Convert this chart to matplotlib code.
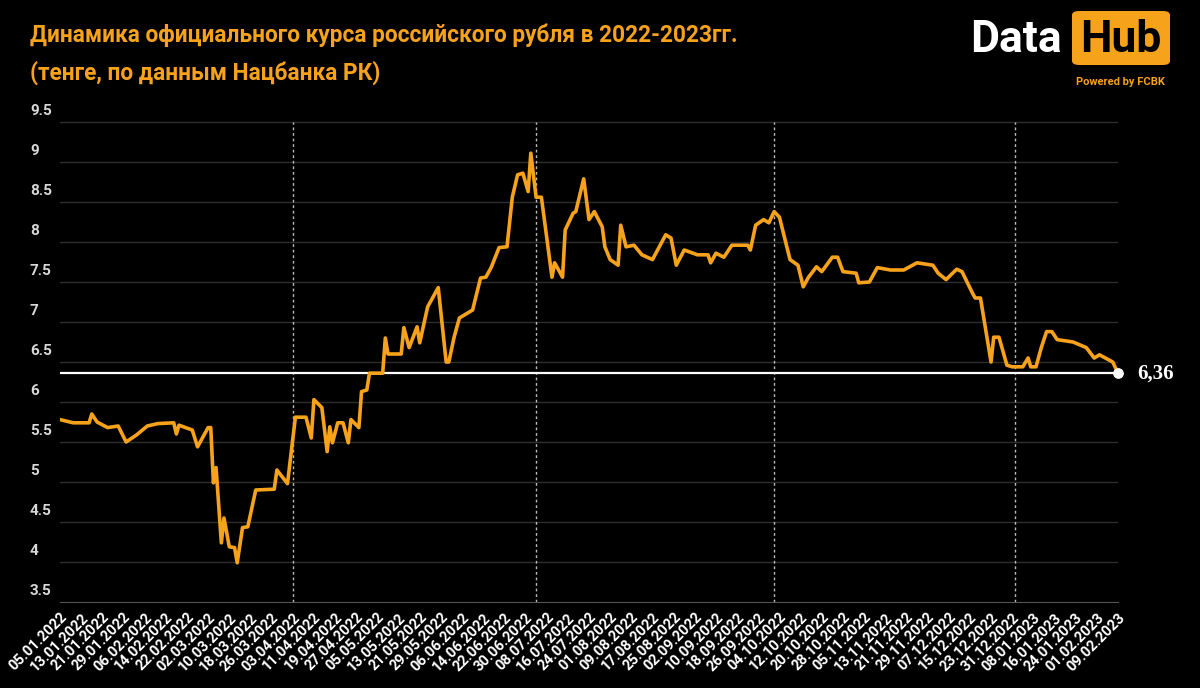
import datetime as dt

import matplotlib
matplotlib.use("Agg")
import matplotlib.pyplot as plt
from matplotlib.patches import FancyBboxPatch
from matplotlib.transforms import blended_transform_factory

START = dt.date(2022, 1, 5)

# days since 05.01.2022 and rate (tenge per rouble)
days = [0, 5, 11, 12, 14, 18, 22, 25, 29, 33, 37, 43, 44, 45, 50, 52, 56, 57, 58, 59,
        61, 62, 64, 66, 67, 69, 71, 74, 81, 82, 86, 89, 93, 95, 96, 99, 101, 102, 103, 105,
        107, 109, 110, 113, 114, 116, 117, 122, 123, 124, 129, 130, 132, 135, 136, 139, 143, 146, 147, 149,
        151, 156, 159, 161, 163, 166, 169, 171, 173, 175, 177, 178, 180, 182, 184, 186, 187, 190, 191, 194,
        195, 198, 200, 202, 205, 206, 208, 211, 212, 214, 217, 220, 224, 229, 231, 233, 236, 241, 245, 246,
        248, 251, 254, 260, 261, 263, 266, 268, 270, 272, 276, 279, 281, 283, 286, 288, 292, 294, 296, 301,
        302, 306, 309, 314, 319, 324, 330, 332, 335, 339, 341, 345, 346, 348, 352, 353, 355, 358, 360, 364,
        366, 367, 369, 371, 373, 375, 377, 383, 388, 391, 393, 398, 400]
rate = [5.78, 5.74, 5.74, 5.85, 5.75, 5.68, 5.70, 5.50, 5.59, 5.70, 5.73, 5.74, 5.60, 5.71, 5.65, 5.44, 5.68, 5.68, 4.99, 5.18,
        4.24, 4.55, 4.19, 4.18, 3.99, 4.43, 4.44, 4.90, 4.91, 5.15, 4.98, 5.81, 5.81, 5.55, 6.03, 5.93, 5.38, 5.69, 5.49, 5.74,
        5.74, 5.49, 5.78, 5.68, 6.13, 6.15, 6.36, 6.36, 6.80, 6.60, 6.60, 6.93, 6.68, 6.94, 6.74, 7.19, 7.43, 6.50, 6.50, 6.81,
        7.05, 7.15, 7.55, 7.56, 7.68, 7.93, 7.94, 8.56, 8.84, 8.86, 8.63, 9.11, 8.56, 8.56, 8.06, 7.56, 7.74, 7.56, 8.15, 8.36,
        8.38, 8.79, 8.28, 8.38, 8.19, 7.94, 7.78, 7.71, 8.21, 7.94, 7.96, 7.84, 7.78, 8.09, 8.05, 7.71, 7.90, 7.84, 7.84, 7.74,
        7.86, 7.81, 7.96, 7.96, 7.90, 8.21, 8.28, 8.24, 8.38, 8.31, 7.78, 7.71, 7.44, 7.56, 7.69, 7.63, 7.81, 7.81, 7.63, 7.61,
        7.49, 7.50, 7.68, 7.65, 7.65, 7.74, 7.71, 7.61, 7.53, 7.66, 7.63, 7.36, 7.30, 7.30, 6.50, 6.81, 6.81, 6.46, 6.44, 6.44,
        6.55, 6.44, 6.44, 6.68, 6.88, 6.88, 6.78, 6.75, 6.68, 6.55, 6.59, 6.50, 6.36]
y_ticks = [3.5, 4, 4.5, 5, 5.5, 6, 6.5, 7, 7.5, 8, 8.5, 9, 9.5]
quarter_marks = [88, 180, 270, 361]
last_label = "6,36"

ORANGE = "#f7a21b"
dates = [START + dt.timedelta(days=d) for d in days]

fig = plt.figure(figsize=(12, 6.88), dpi=100, facecolor="black")
ax = fig.add_axes([60 / 1200, 1 - 602 / 688, 1058 / 1200, (602 - 110) / 688])
ax.set_facecolor("black")

ax.set_ylim(3.5, 9.65)
ax.set_xlim(dates[0], dates[-1])
for v in y_ticks[1:]:
    ax.axhline(v, color="#2e2e2e", lw=1, zorder=1)
for d in quarter_marks:
    ax.axvline(START + dt.timedelta(days=d), ymax=6.0 / 6.15, color="#bbbbbb", lw=1,
               ls=(0, (2, 2)), zorder=2)

ax.plot(dates, rate, color=ORANGE, lw=2.6, zorder=4, solid_joinstyle="round")
ax.axhline(rate[-1], color="white", lw=1.6, zorder=3)
ax.scatter([dates[-1]], [rate[-1]], s=45, color="white", zorder=5, clip_on=False)
ax.annotate(last_label, (dates[-1], rate[-1]), xytext=(14, 0), textcoords="offset points",
            va="center", ha="left", color="white", fontsize=15, fontweight="bold",
            family="Liberation Serif", annotation_clip=False)

for s in ["top", "right", "left"]:
    ax.spines[s].set_visible(False)
ax.spines["bottom"].set_color("#555555")

ax.set_yticks([])
tr = blended_transform_factory(fig.transFigure, ax.transData)
for v in y_ticks:
    ax.text(30 / 1200, v + 0.05, f"{v:g}", transform=tr, color="#d8d8d8", fontsize=11,
            fontweight="bold", ha="left", va="bottom", family="Roboto")

ticks = [START + dt.timedelta(days=8 * i) for i in range(51)]
ax.set_xticks(ticks)
ax.set_xticklabels([t.strftime("%d.%m.%Y") for t in ticks], rotation=45, ha="right",
                   rotation_mode="anchor", color="white", fontsize=10.5, family="Roboto",
                   fontweight="bold")
ax.tick_params(axis="x", length=0, pad=6)

fig.text(30 / 1200, 1 - 35 / 688, "Динамика официального курса российского рубля в 2022-2023гг.",
         color=ORANGE, fontsize=16.3, fontweight="bold", va="center", family="Roboto")
fig.text(30 / 1200, 1 - 73 / 688, "(тенге, по данным Нацбанка РК)",
         color=ORANGE, fontsize=16.3, fontweight="bold", va="center", family="Roboto")

# logo
fig.text(1062 / 1200, 1 - 40 / 688, "Data", color="white", fontsize=32, fontweight="bold",
         ha="right", va="center", family="Roboto")
box = FancyBboxPatch((1072 / 1200, 1 - 65 / 688), 98 / 1200, 54 / 688,
                     boxstyle="round,pad=0,rounding_size=0.006", transform=fig.transFigure,
                     facecolor=ORANGE, edgecolor="none")
fig.patches.append(box)
fig.text(1121 / 1200, 1 - 40 / 688, "Hub", color="black", fontsize=32, fontweight="bold",
         ha="center", va="center", family="Roboto")
fig.text(1120 / 1200, 1 - 82 / 688, "Powered by FCBK", color=ORANGE, fontsize=8,
         fontweight="bold", ha="center", va="center", family="Roboto")

fig.savefig("out.png", dpi=100, facecolor="black")
